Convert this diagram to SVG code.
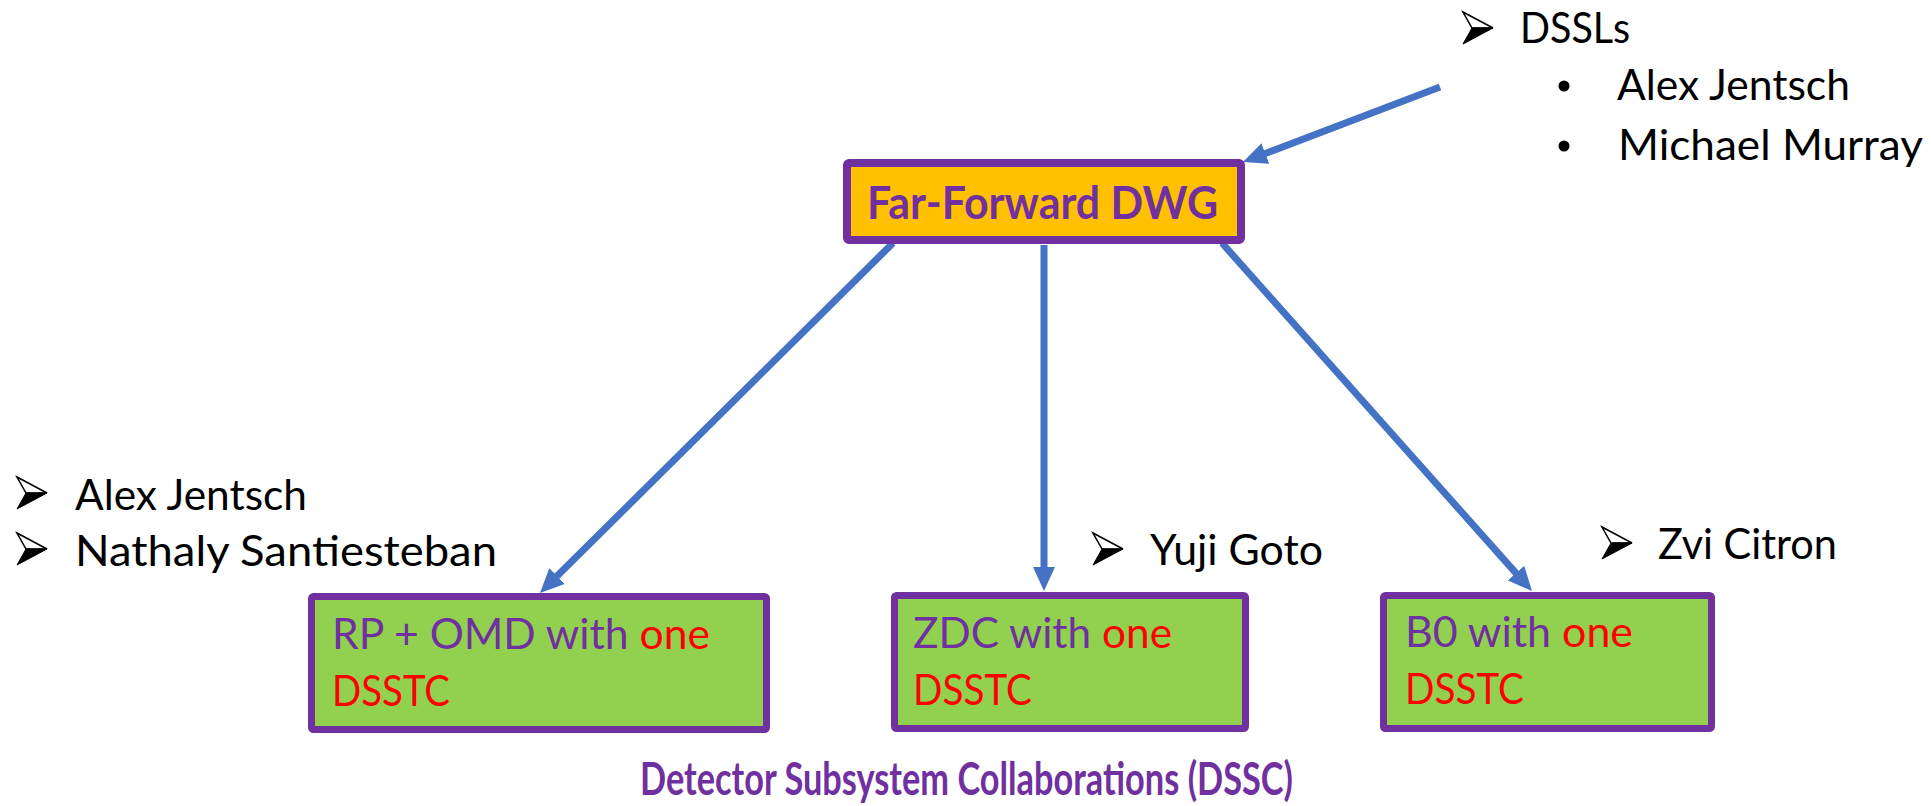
<svg xmlns="http://www.w3.org/2000/svg" xmlns:xlink="http://www.w3.org/1999/xlink" width="1931" height="806" viewBox="0 0 1931 806">
<style>
.bg{fill:#ffffff}
.lbl{font-family:Lato,"Open Sans","Liberation Sans",sans-serif;font-size:43px;fill:#000000}
.box{stroke:#7030A0;stroke-width:7}
.green{fill:#92D050}
.orange{fill:#FFC000}
.pur{fill:#7030A0}
.red{fill:#FF0000}
.bold{font-weight:bold;font-size:45px}
.conn{stroke:#4472C4;stroke-width:7;fill:none;marker-end:url(#ah)}
</style>
<defs>
<marker id="ah" viewBox="0 0 24 22" refX="6" refY="11" markerWidth="24" markerHeight="22" markerUnits="userSpaceOnUse" orient="auto">
<path d="M0,0 L24,11 L0,22 Z" fill="#4472C4"/>
</marker>
<g id="bul">
<path d="M0,0 L30,16 L9,16 Z" fill="#ffffff" stroke="#000000" stroke-width="1.5" stroke-linejoin="miter"/>
<path d="M9,16 L30,16 L0,32 Z" fill="#000000" stroke="#000000" stroke-width="1"/>
</g>
</defs>
<rect class="bg" x="0" y="0" width="1931" height="806"/>

<g id="connectors">
<path class="conn" d="M1440,87 L1259.8,155.6"/>
<path class="conn" d="M893,243 L552.8,580.3"/>
<path class="conn" d="M1044,245 L1044,573"/>
<path class="conn" d="M1222,243 L1520,577.6"/>
</g>

<g id="node-ff">
<rect class="box orange" x="847" y="163" width="394" height="77" rx="2" style="stroke-width:8"/>
<text class="lbl pur bold" x="867" y="219" textLength="351" lengthAdjust="spacingAndGlyphs" style="font-size:46px">Far-Forward DWG</text>
</g>

<g id="node-rp">
<rect class="box green" x="311.5" y="596.5" width="455" height="133" rx="2"/>
<text class="lbl" x="332" y="649" textLength="378" lengthAdjust="spacingAndGlyphs"><tspan class="pur">RP + OMD with </tspan><tspan class="red">one</tspan></text>
<text class="lbl red" x="332" y="706" textLength="118" lengthAdjust="spacingAndGlyphs">DSSTC</text>
</g>

<g id="node-zdc">
<rect class="box green" x="894.5" y="595.5" width="351" height="133" rx="2"/>
<text class="lbl" x="913" y="648" textLength="259" lengthAdjust="spacingAndGlyphs"><tspan class="pur">ZDC with </tspan><tspan class="red">one</tspan></text>
<text class="lbl red" x="913" y="705" textLength="119" lengthAdjust="spacingAndGlyphs">DSSTC</text>
</g>

<g id="node-b0">
<rect class="box green" x="1383.5" y="595.5" width="328" height="133" rx="2"/>
<text class="lbl" x="1405" y="647" textLength="228" lengthAdjust="spacingAndGlyphs"><tspan class="pur">B0 with </tspan><tspan class="red">one</tspan></text>
<text class="lbl red" x="1405" y="704" textLength="119" lengthAdjust="spacingAndGlyphs">DSSTC</text>
</g>

<g id="dssl-list">
<use xlink:href="#bul" href="#bul" x="1463" y="12"/>
<text class="lbl" x="1520" y="43" textLength="110" lengthAdjust="spacingAndGlyphs">DSSLs</text>
<circle cx="1564" cy="86" r="5.5" fill="#000000"/>
<text class="lbl" x="1617" y="100" textLength="233" lengthAdjust="spacingAndGlyphs">Alex Jentsch</text>
<circle cx="1564" cy="146" r="5.5" fill="#000000"/>
<text class="lbl" x="1618" y="160" textLength="305" lengthAdjust="spacingAndGlyphs">Michael Murray</text>
</g>

<g id="rp-people">
<use xlink:href="#bul" href="#bul" x="17" y="477"/>
<text class="lbl" x="75" y="510" textLength="232" lengthAdjust="spacingAndGlyphs">Alex Jentsch</text>
<use xlink:href="#bul" href="#bul" x="17" y="533"/>
<text class="lbl" x="75" y="566" textLength="422" lengthAdjust="spacingAndGlyphs">Nathaly Santiesteban</text>
</g>

<g id="zdc-people">
<use xlink:href="#bul" href="#bul" x="1093" y="533"/>
<text class="lbl" x="1150" y="565" textLength="173" lengthAdjust="spacingAndGlyphs">Yuji Goto</text>
</g>

<g id="b0-people">
<use xlink:href="#bul" href="#bul" x="1602" y="527"/>
<text class="lbl" x="1658" y="559" textLength="179" lengthAdjust="spacingAndGlyphs">Zvi Citron</text>
</g>

<g id="title">
<text class="lbl pur bold" x="640" y="795" textLength="653" lengthAdjust="spacingAndGlyphs">Detector Subsystem Collaborations (DSSC)</text>
</g>
</svg>
